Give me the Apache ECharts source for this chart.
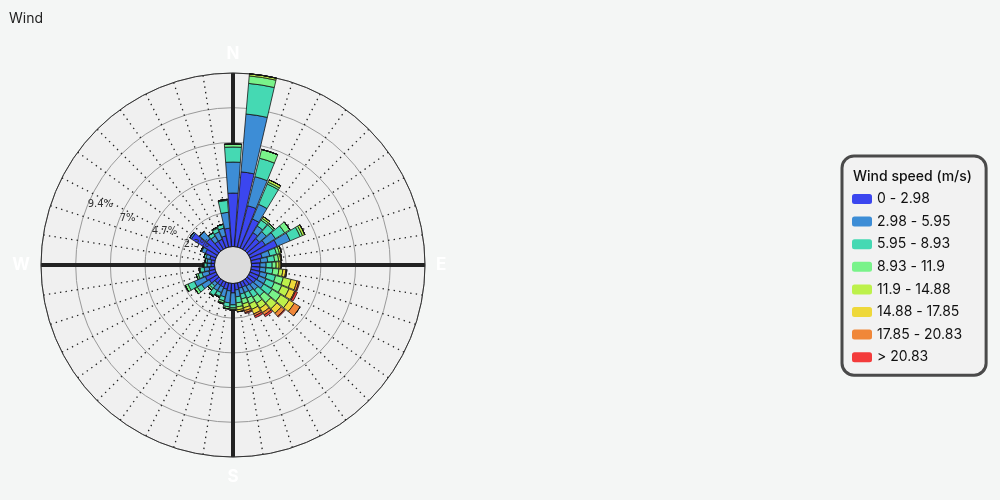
<!DOCTYPE html>
<html>
<head>
<meta charset="utf-8">
<title>Wind</title>
<script src="https://cdn.jsdelivr.net/npm/echarts@6/dist/echarts.min.js"></script>
<style>
html, body { margin: 0; padding: 0; background: #f4f6f5; }
#chart { width: 1000px; height: 500px; }
</style>
</head>
<body>
<div id="chart"></div>
<script>
// 40 sectors, 9 degrees apart, starting at north
var directions = [0, 9, 18, 27, 36, 45, 54, 63, 72, 81, 90, 99, 108, 117, 126, 135, 144, 153, 162, 171,
    180, 189, 198, 207, 216, 225, 234, 243, 252, 261, 270, 279, 288, 297, 306, 315, 324, 333, 342, 351];
var compassBearings = [0, 90, 180, 270];
var compassLabels = ['N', 'E', 'S', 'W'];
var ringLabels = ['2.3%', '4.7%', '7%', '9.4%'];
var freqMax = 11.75;
var ringStep = 2.35;

var speedBins = ['0 - 2.98', '2.98 - 5.95', '5.95 - 8.93', '8.93 - 11.9', '11.9 - 14.88', '14.88 - 17.85', '17.85 - 20.83', '> 20.83'];
var binColors = ['#3b46ef', '#3d8dd6', '#45d9b3', '#79f38a', '#bdf14b', '#eed83a', '#f08739', '#f33b3b'];

// frequency (%) per sector for each speed bin
var bin1 = [3.62, 5.08, 2.88, 2.13, 1.32, 1.12, 1.32, 2.00, 0.78, 0.64, 0.58, 0.58, 0.64, 0.64, 0.58, 0.51, 0.44, 0.37, 0.37, 0.44,
    0.64, 0.51, 0.44, 0.37, 0.37, 0.37, 0.64, 0.78, 0.44, 0.37, 0.24, 0.24, 0.37, 0.78, 2.07, 1.12, 0.64, 0.64, 0.78, 1.25];
var bin2 = [2.10, 3.93, 2.03, 1.08, 0.54, 0.61, 0.81, 0.95, 0.54, 0.47, 0.41, 0.41, 0.47, 0.54, 0.61, 0.47, 0.41, 0.41, 0.41, 0.47,
    0.81, 0.81, 0.54, 0.41, 0.41, 0.27, 0.61, 0.81, 0.47, 0.34, 0.27, 0.27, 0.27, 0.27, 0.14, 0.61, 0.41, 0.54, 0.54, 1.08];
var bin3 = [1.02, 2.08, 1.29, 1.49, 0.47, 0.61, 0.74, 0.74, 0.47, 0.47, 0.41, 0.47, 0.61, 0.61, 0.68, 0.54, 0.47, 0.41, 0.34, 0.41,
    0.20, 0.27, 0.27, 0.27, 0.41, 0.20, 0.34, 0.47, 0.27, 0.27, 0.20, 0.14, 0.14, 0.07, 0, 0, 0.27, 0.27, 0.27, 0.81];
var bin4 = [0.20, 0.51, 0.61, 0.14, 0.14, 0.14, 0.41, 0.17, 0.20, 0.27, 0.27, 0.41, 0.54, 0.54, 0.68, 0.61, 0.47, 0.41, 0.34, 0.27,
    0.10, 0.14, 0.14, 0.07, 0.07, 0.14, 0.20, 0.20, 0.14, 0.07, 0.07, 0, 0, 0, 0, 0, 0, 0.07, 0, 0.07];
var bin5 = [0, 0.14, 0, 0.17, 0.14, 0, 0, 0.17, 0.14, 0.14, 0.20, 0.27, 0.54, 0.54, 0.68, 0.54, 0.41, 0.41, 0.27, 0.20,
    0.07, 0, 0.07, 0, 0, 0, 0, 0, 0, 0, 0, 0, 0, 0, 0, 0, 0, 0, 0, 0];
var bin6 = [0, 0, 0, 0, 0, 0, 0, 0, 0, 0.07, 0.14, 0.20, 0.41, 0.41, 0.41, 0.41, 0.34, 0.34, 0.20, 0.14,
    0, 0, 0, 0, 0, 0, 0, 0, 0, 0, 0, 0, 0, 0, 0, 0, 0, 0, 0, 0];
var bin7 = [0, 0, 0, 0, 0, 0, 0, 0, 0, 0, 0, 0.07, 0.14, 0.07, 0.47, 0.27, 0.20, 0.14, 0.14, 0,
    0, 0, 0, 0, 0, 0, 0, 0, 0, 0, 0, 0, 0, 0, 0, 0, 0, 0, 0, 0];
var bin8 = [0, 0, 0, 0, 0, 0, 0, 0, 0, 0, 0, 0, 0.07, 0.14, 0, 0.07, 0.14, 0.14, 0.07, 0,
    0, 0, 0, 0, 0, 0, 0, 0, 0, 0, 0, 0, 0, 0, 0, 0, 0, 0, 0, 0];

var binValues = [bin1, bin2, bin3, bin4, bin5, bin6, bin7, bin8];
var center = [233, 265];
var ring = [18.5, 192];

var chart = echarts.init(document.getElementById('chart'));

var series = speedBins.map(function (name, k) {
    return {
        type: 'bar',
        name: name,
        coordinateSystem: 'polar',
        polarIndex: 1,
        stack: 'wind',
        barCategoryGap: '9%',
        data: binValues[k],
        itemStyle: { color: binColors[k], borderColor: '#151515', borderWidth: 0.8 },
        emphasis: { disabled: true },
        animation: false
    };
});

chart.setOption({
    backgroundColor: '#f4f6f5',
    animation: false,
    title: [
        { text: 'Wind', left: 9, top: 12, padding: 0,
          textStyle: { fontFamily: 'Inter', fontSize: 14, fontWeight: 'normal', color: '#222' } },
        { text: 'Wind speed (m/s)', left: 853, top: 170, padding: 0, z: 10,
          textStyle: { fontFamily: 'Inter', fontSize: 14, fontWeight: 500, color: '#111' } }
    ],
    legend: {
        orient: 'vertical',
        left: 842,
        top: 156,
        data: speedBins,
        icon: 'roundRect',
        itemWidth: 20,
        itemHeight: 10,
        itemGap: 8.6,
        itemTextGap: 9,
        padding: [36, 24, 11, 10],
        backgroundColor: '#f2f2f2',
        borderColor: '#4a4a4a',
        borderWidth: 3,
        borderRadius: 12,
        selectedMode: false,
        itemStyle: { borderWidth: 0 },
        textStyle: { fontFamily: 'Inter', fontSize: 14, color: '#111' }
    },
    polar: [
        { center: center, radius: ring },
        { center: center, radius: ring },
        { center: center, radius: ring },
        { center: center, radius: [0, 18.5] }
    ],
    angleAxis: [
        {
            polarIndex: 0, type: 'value', min: 0, max: 360, interval: 90, startAngle: 90, clockwise: true, z: 1.5,
            axisLine: { lineStyle: { color: '#333', width: 1 } },
            axisTick: { show: false }, axisLabel: { show: false },
            splitLine: { show: true, lineStyle: { color: '#222', width: 4 } },
            minorTick: { show: false, splitNumber: 10 },
            minorSplitLine: { show: true, lineStyle: { color: '#222', width: 1.3, type: [1.4, 4.2] } }
        },
        {
            polarIndex: 1, type: 'category', data: directions, startAngle: 94.5, clockwise: true, boundaryGap: true,
            axisLine: { show: false }, axisTick: { show: false }, splitLine: { show: false },
            axisLabel: {
                interval: 9, margin: 11, color: '#ffffff', fontFamily: 'Inter', fontWeight: 'bold', fontSize: 17,
                formatter: function (v) { return compassLabels[compassBearings.indexOf(+v)] || ''; }
            }
        },
        { polarIndex: 2, type: 'value', min: 0, max: 360, startAngle: 157.5, show: false },
        {
            polarIndex: 3, type: 'value', min: 0, max: 360, startAngle: 90,
            axisLine: { lineStyle: { color: '#a8a8a8', width: 1 } },
            axisTick: { show: false }, axisLabel: { show: false }, splitLine: { show: false }
        }
    ],
    radiusAxis: [
        {
            polarIndex: 0, min: 0, max: freqMax, interval: ringStep, z: 1,
            axisLine: { show: false }, axisTick: { show: false }, axisLabel: { show: false },
            splitLine: { show: true, lineStyle: { color: '#999999', width: 1 } }
        },
        {
            polarIndex: 1, min: 0, max: freqMax, z: -1,
            axisLine: { show: false }, axisTick: { show: false }, axisLabel: { show: false },
            splitLine: { show: false },
            splitArea: { show: true, areaStyle: { color: ['#f0f0f0'] } }
        },
        {
            polarIndex: 2, min: 0, max: freqMax, interval: ringStep, zlevel: 1,
            axisLine: { show: false }, axisTick: { show: false }, splitLine: { show: false },
            axisLabel: {
                margin: 0, align: 'left', verticalAlign: 'middle', padding: [0, 0, 9, 0],
                fontFamily: 'DejaVu Sans', fontSize: 10, color: '#333',
                formatter: function (v, i) { return ringLabels[i - 1] || ''; }
            }
        },
        {
            polarIndex: 3, min: 0, max: 1, interval: 1,
            axisLine: { show: false }, axisTick: { show: false }, axisLabel: { show: false },
            splitLine: { show: false },
            splitArea: { show: true, areaStyle: { color: ['#dcdcdc'] } }
        }
    ],
    series: series
});
</script>
</body>
</html>
